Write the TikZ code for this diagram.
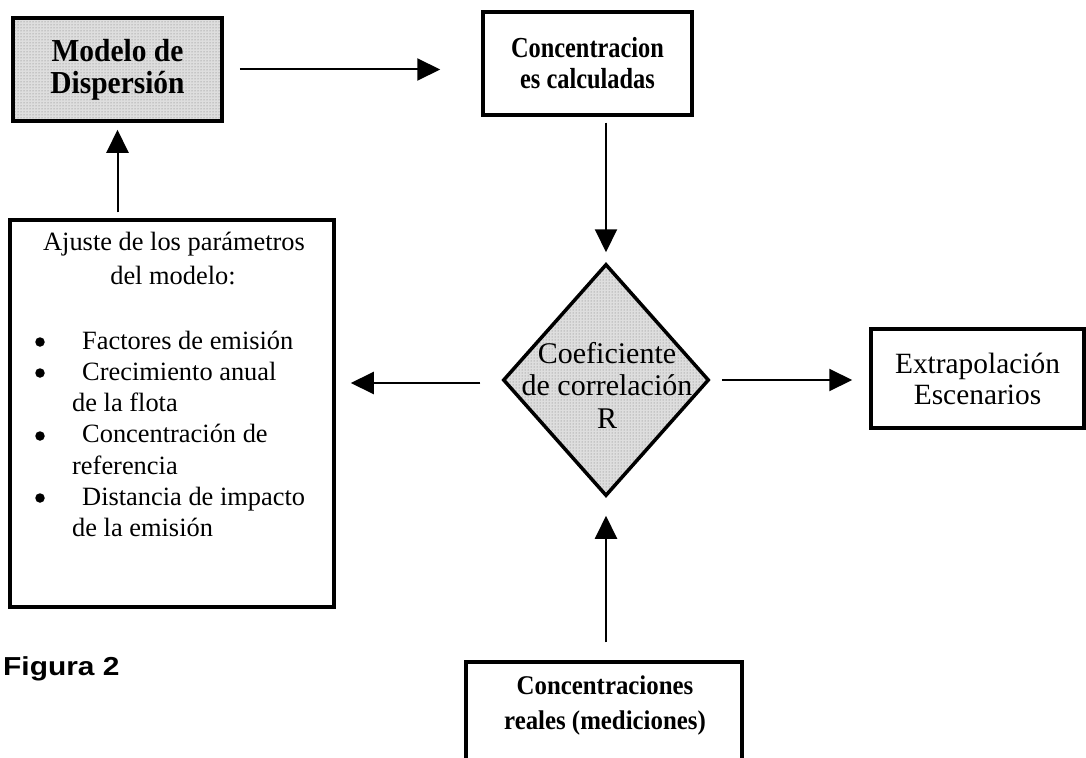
\documentclass[tikz,border=0pt]{standalone}
\usepackage{fontspec}
\setmainfont{Liberation Serif}
\newfontfamily\condA{Liberation Serif}[FakeStretch=0.92]
\newfontfamily\condB{Liberation Serif}[FakeStretch=0.84]
\newfontfamily\figfont{Liberation Sans}[FakeStretch=1.15]
\usetikzlibrary{arrows.meta,shapes.geometric,patterns}
\begin{document}
\begin{tikzpicture}[x=1pt,y=-1pt,
  box/.style={draw=black, line width=3.5pt, rectangle, inner sep=0pt},
  shaded/.style={preaction={fill=black!13}, preaction={pattern=dots, pattern color=black!55}},
  arr/.style={-{Triangle[width=22pt,length=23pt]}, line width=2pt},
  ajt/.style={font=\fontsize{26.4}{31.3}\selectfont, inner sep=0pt},
  bul/.style={fill=black, circle, inner sep=0pt, minimum size=9.5pt}]
\useasboundingbox (0,0) rectangle (1086,757);
\clip (0,0) rectangle (1086,757);

% boxes
\node[box, shaded, minimum width=209pt, minimum height=103pt,
      font=\condA\bfseries\fontsize{32}{32}\selectfont, align=center]
      (model) at (117.5,69.5) {Modelo de\\Dispersión};
\node[box, minimum width=209pt, minimum height=103pt,
      font=\condB\bfseries\fontsize{29}{31}\selectfont, align=center]
      (calc) at (587.5,63.5) {Concentracion\\es calculadas};
\node[draw=black, line width=3.5pt, diamond, shaded, minimum width=206pt,
      minimum height=232pt, inner sep=0pt] (dia) at (606,380) {};
\node[font=\fontsize{30}{32.5}\selectfont, align=center, inner sep=0pt]
      (diatext) at (607,385) {Coeficiente\\de correlación\\R};
\node[box, minimum width=324pt, minimum height=387pt] (ajuste) at (172,413.5) {};
\node[box, minimum width=213pt, minimum height=99pt,
      font=\fontsize{29.4}{31}\selectfont, align=center]
      (extrap) at (977.5,378.5) {Extrapolación\\Escenarios};
\node[box, minimum width=276pt, minimum height=140pt] (reales) at (604,732) {};
\node[font=\condA\bfseries\fontsize{27}{35}\selectfont, align=center, inner sep=0pt]
      (realtxt) at (605,705) {Concentraciones\\reales (mediciones)};

% text of the adjustment box
\node[ajt, anchor=base] (aj1) at (174,250) {Ajuste de los parámetros};
\node[ajt, anchor=base] (aj2) at (173,284) {del modelo:};
\node[bul] (b1) at (40,342) {};
\node[bul] (b2) at (40,373) {};
\node[bul] (b3) at (40,436) {};
\node[bul] (b4) at (40,498) {};
\node[ajt, anchor=base west] (i1) at (82,349) {Factores de emisión};
\node[ajt, anchor=base west] (i2) at (82,380.3) {Crecimiento anual};
\node[ajt, anchor=base west] (i2b) at (72,411.6) {de la flota};
\node[ajt, anchor=base west] (i3) at (82,442.9) {Concentración de};
\node[ajt, anchor=base west] (i3b) at (72,474.2) {referencia};
\node[ajt, anchor=base west] (i4) at (82,505.5) {Distancia de impacto};
\node[ajt, anchor=base west] (i4b) at (72,536.8) {de la emisión};

% caption
\node[font=\figfont\bfseries\fontsize{26}{30}\selectfont, anchor=base west, inner sep=0pt]
      (fig) at (3,675) {Figura 2};

% connectors
\draw[arr, shorten <=16pt, shorten >=41pt] (model.east) -- (model.east -| calc.west);
\draw[arr, shorten <=6pt, shorten >=10pt] (calc.south -| dia.north) -- (dia.north);
\draw[arr, shorten <=21pt, shorten >=15pt] ([yshift=-3pt]dia.west) -- ([yshift=-3pt]dia.west -| ajuste.east);
\draw[arr, shorten <=6pt, shorten >=7pt] (ajuste.north -| model.south) -- (model.south);
\draw[arr, shorten <=11pt, shorten >=17pt] (dia.east) -- (dia.east -| extrap.west);
\draw[arr, shorten <=18pt, shorten >=18pt] (reales.north -| dia.south) -- (dia.south);
\end{tikzpicture}
\end{document}
